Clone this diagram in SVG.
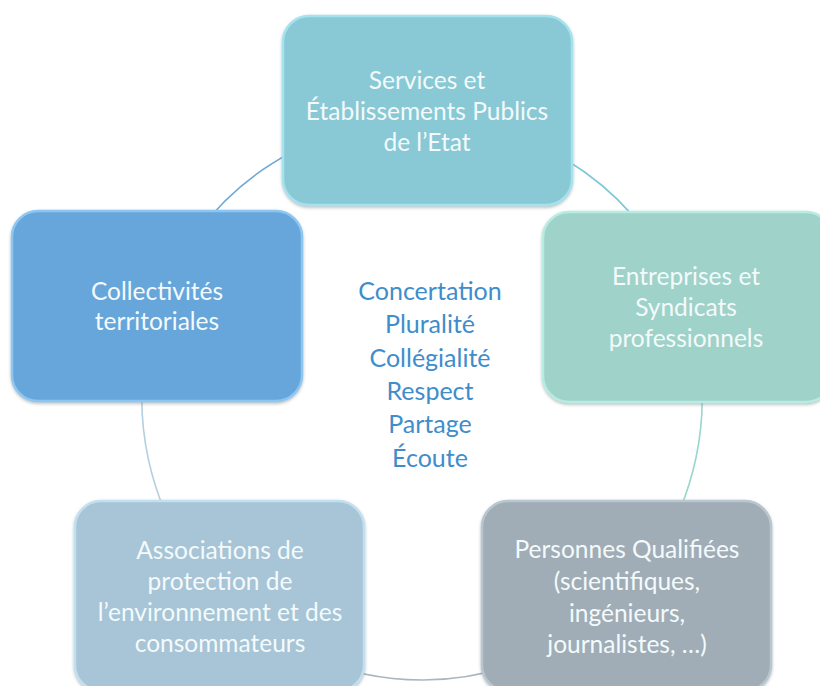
<svg xmlns="http://www.w3.org/2000/svg" width="820" height="686" viewBox="0 0 820 686">
  <defs>
    <filter id="shadow" x="-10%" y="-10%" width="120%" height="125%">
      <feDropShadow dx="0" dy="1.5" stdDeviation="1.5" flood-color="#5a6a72" flood-opacity="0.45"/>
    </filter>
    <style>
      .box { stroke-width: 2.5; filter: url(#shadow); }
      .lbl { font-family: Lato, "Open Sans", "Liberation Sans", sans-serif; font-size: 24.5px; fill: #f4fafc; text-anchor: middle; }
      .ctr { font-family: Lato, "Open Sans", "Liberation Sans", sans-serif; font-size: 25px; fill: #3e8dcc; text-anchor: middle; }
      .arc { fill: none; stroke-width: 1.6; }
    </style>
  </defs>
  <rect width="820" height="686" fill="#ffffff"/>

  <g id="connectors">
    <path class="arc" stroke="#7fc8d6" d="M426.9,120 A280,280 0 0 1 685.1,304.2"/>
    <path class="arc" stroke="#9ad6cc" d="M685.1,304.2 A280,280 0 0 1 624.8,593.1"/>
    <path class="arc" stroke="#a8b6c2" d="M624.8,593.1 A280,280 0 0 1 220.6,594.5"/>
    <path class="arc" stroke="#b4cfdf" d="M220.6,594.5 A280,280 0 0 1 158.1,306.5"/>
    <path class="arc" stroke="#6fa9d6" d="M158.1,306.5 A280,280 0 0 1 426.9,120"/>
  </g>

  <g id="node-etat">
    <rect class="box" x="283" y="16" width="289" height="189" rx="26" fill="#88c9d5" stroke="#a4e2ee"/>
    <text class="lbl" x="427" y="89">Services et</text>
    <text class="lbl" x="427" y="120">Établissements Publics</text>
    <text class="lbl" x="427" y="151">de l’Etat</text>
  </g>

  <g id="node-collectivites">
    <rect class="box" x="12" y="211" width="290" height="190" rx="26" fill="#66a6da" stroke="#8dc6f0"/>
    <text class="lbl" x="157" y="300">Collectivités</text>
    <text class="lbl" x="157" y="330">territoriales</text>
  </g>

  <g id="node-entreprises">
    <rect class="box" x="543" y="212" width="289" height="190" rx="26" fill="#9fd2c8" stroke="#b6ece2"/>
    <text class="lbl" x="686" y="285">Entreprises et</text>
    <text class="lbl" x="686" y="316">Syndicats</text>
    <text class="lbl" x="686" y="347">professionnels</text>
  </g>

  <g id="node-personnes">
    <rect class="box" x="482" y="501" width="289" height="190" rx="26" fill="#a0adb6" stroke="#b8c6ce"/>
    <text class="lbl" x="627" y="558">Personnes Qualifiées</text>
    <text class="lbl" x="627" y="590">(scientifiques,</text>
    <text class="lbl" x="627" y="622">ingénieurs,</text>
    <text class="lbl" x="627" y="653">journalistes, …)</text>
  </g>

  <g id="node-associations">
    <rect class="box" x="75" y="501" width="289" height="190" rx="26" fill="#a7c5d6" stroke="#c2dff0"/>
    <text class="lbl" x="220" y="559">Associations de</text>
    <text class="lbl" x="220" y="590">protection de</text>
    <text class="lbl" x="220" y="621">l’environnement et des</text>
    <text class="lbl" x="220" y="652">consommateurs</text>
  </g>

  <g id="center-values">
    <text class="ctr" x="430" y="300">Concertation</text>
    <text class="ctr" x="430" y="333">Pluralité</text>
    <text class="ctr" x="430" y="367">Collégialité</text>
    <text class="ctr" x="430" y="400">Respect</text>
    <text class="ctr" x="430" y="433">Partage</text>
    <text class="ctr" x="430" y="467">Écoute</text>
  </g>
</svg>
